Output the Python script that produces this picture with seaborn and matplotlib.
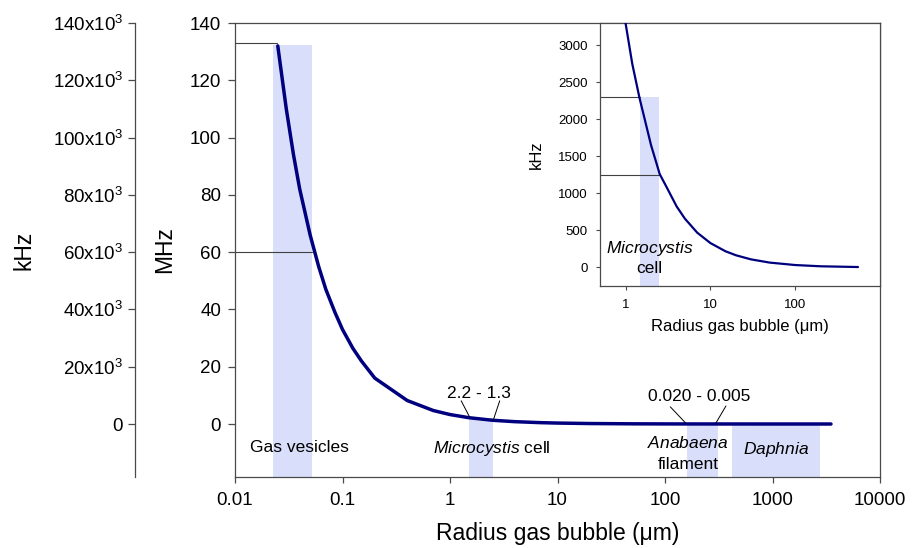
import matplotlib
matplotlib.use("Agg")
import seaborn as sns
from matplotlib import pyplot as plt
from matplotlib.ticker import NullLocator

# resonance curve: bubble radius (um) -> MHz
RADIUS_UM = [0.025, 0.03, 0.035, 0.04, 0.05, 0.06, 0.07, 0.085, 0.1, 0.125, 0.15, 0.2,
             0.4, 0.7, 1.0, 1.5, 2.5, 4, 7, 10, 20, 50, 100, 200, 500, 1000, 3500]
FREQ_MHZ = [132, 110, 94, 82, 66, 55, 47, 39, 33, 26.4, 22, 16,
            8.2, 4.7, 3.3, 2.2, 1.3, 0.82, 0.47, 0.33, 0.165, 0.066, 0.033, 0.017, 0.007, 0.0033, 0.001]

# inset curve: radius (um) -> kHz
INSET_R = [1.0, 1.2, 1.46, 2.0, 2.53, 3, 4, 5, 7, 10, 15, 20, 30, 50, 100, 200, 550]
INSET_KHZ = [3300, 2750, 2290, 1650, 1260, 1100, 825, 660, 470, 330, 220, 165, 110, 66, 33, 16, 6]

# shaded size ranges (um) and the frequency they reach (MHz)
BAND_LO = [0.0225, 1.5, 160, 420]
BAND_HI = [0.052, 2.5, 310, 2750]
BAND_TOP = [132.3, 2.2, 0.02, 0.008]

REF_Y = [133, 60]
REF_X_END = [0.0245, 0.052]

INSET_BAND = (1.5, 2.5, 2300)
INSET_REF_Y = [2300, 1250]
INSET_REF_X_END = [1.5, 2.5]

X_TICKS = [0.01, 0.1, 1, 10, 100, 1000, 10000]
X_TICK_LABELS = ["0.01", "0.1", "1", "10", "100", "1000", "10000"]
MHZ_TICKS = [0, 20, 40, 60, 80, 100, 120, 140]
KHZ_TICKS = [0, 20000, 40000, 60000, 80000, 100000, 120000, 140000]
KHZ_TICK_LABELS = ["0"] + [f"{v // 1000}x10$^3$" for v in KHZ_TICKS[1:]]
INSET_X_TICKS = [1, 10, 100]
INSET_Y_TICKS = [0, 500, 1000, 1500, 2000, 2500, 3000]

CURVE = "#00007F"
BAND = "#D9DEFA"
SPINE = "#4A4A4A"
REF = "#404040"

sns.set_theme(style="ticks")
plt.rcParams.update({
    "font.family": ["Liberation Sans", "DejaVu Sans"],
    "mathtext.fontset": "custom",
    "mathtext.rm": "Liberation Sans",
    "mathtext.it": "Liberation Sans:italic",
    "text.color": "black",
    "axes.labelcolor": "black",
    "axes.edgecolor": SPINE,
    "axes.linewidth": 0.9,
    "xtick.color": SPINE,
    "ytick.color": SPINE,
    "xtick.labelcolor": "black",
    "ytick.labelcolor": "black",
})

fig = plt.figure(figsize=(9.18, 5.48), dpi=100)
ax = fig.add_axes([235 / 918, 71 / 548, 645 / 918, 454 / 548])

YMIN, YMAX = -18.5, 140

for lo, hi, top in zip(BAND_LO, BAND_HI, BAND_TOP):
    ax.fill_between([lo, hi], YMIN, top, color=BAND, lw=0, zorder=1)
for y, xe in zip(REF_Y, REF_X_END):
    ax.plot([0.01, xe], [y, y], color=REF, lw=0.8, zorder=2)

sns.lineplot(x=RADIUS_UM, y=FREQ_MHZ, ax=ax, color=CURVE, lw=2.5, estimator=None, zorder=3)

ax.set_xscale("log")
ax.set_xlim(0.01, 10000)
ax.set_ylim(YMIN, YMAX)
ax.set_xticks(X_TICKS)
ax.set_xticklabels(X_TICK_LABELS)
ax.xaxis.set_minor_locator(NullLocator())
ax.set_yticks(MHZ_TICKS)
ax.tick_params(axis="y", length=5, width=0.9, pad=5, labelsize=13.5)
ax.tick_params(axis="x", length=4, width=0.9, pad=7, labelsize=13.5)
ax.set_xlabel("Radius gas bubble (μm)", fontsize=16.5, labelpad=9)
ax.set_ylabel("MHz", fontsize=16.5)
ax.yaxis.set_label_coords(-0.092, 0.5)

# annotations in the main panel
lab = dict(fontsize=12.5, ha="center", va="baseline")
ax.text(0.0394, -9.8, "Gas vesicles", **lab)
ax.text(2.47, -10.0, r"$\it{Microcystis}$ cell", **lab)
ax.text(163, -8.5, r"$\it{Anabaena}$", **lab)
ax.text(163, -15.8, "filament", **lab)
ax.text(1075, -10.6, r"$\it{Daphnia}$", **lab)
ax.text(1.84, 9.0, "2.2 - 1.3", **lab)
ax.text(210, 8.1, "0.020 - 0.005", **lab)
for (x0, y0), (x1, y1) in [((1.27, 8.1), (1.52, 2.5)), ((2.9, 8.1), (2.53, 1.4)),
                           ((112, 6.0), (156, 0.3)), ((369, 6.3), (297, 0.3))]:
    ax.plot([x0, x1], [y0, y1], color="black", lw=0.7, zorder=4)

# second left-hand axis in kHz
ax_k = ax.twinx()
ax_k.spines["left"].set_position(("outward", 72))
ax_k.spines["left"].set_visible(True)
for side in ("right", "top", "bottom"):
    ax_k.spines[side].set_visible(False)
ax_k.yaxis.set_ticks_position("left")
ax_k.yaxis.set_label_position("left")
ax_k.set_ylim(YMIN * 1000, YMAX * 1000)
ax_k.set_yticks(KHZ_TICKS)
ax_k.set_yticklabels(KHZ_TICK_LABELS)
ax_k.tick_params(axis="y", length=5, width=0.9, pad=3.5, labelsize=13.5)
ax_k.set_ylabel("kHz", fontsize=16.5)
ax_k.yaxis.set_label_coords(-0.31, 0.5)

# inset: zoom on the Microcystis range
ax_in = fig.add_axes([600 / 918, 262 / 548, 280 / 918, 263 / 548], zorder=5)
ax_in.set_facecolor("white")
lo, hi, top = INSET_BAND
ax_in.fill_between([lo, hi], -250, top, color=BAND, lw=0, zorder=1)
for y, xe in zip(INSET_REF_Y, INSET_REF_X_END):
    ax_in.plot([0.5, xe], [y, y], color=REF, lw=0.8, zorder=2)
sns.lineplot(x=INSET_R, y=INSET_KHZ, ax=ax_in, color=CURVE, lw=1.6, estimator=None, zorder=3)
ax_in.set_xscale("log")
ax_in.set_xlim(0.5, 1000)
ax_in.set_ylim(-250, 3300)
ax_in.set_xticks(INSET_X_TICKS)
ax_in.set_xticklabels(["1", "10", "100"])
ax_in.xaxis.set_minor_locator(NullLocator())
ax_in.set_yticks(INSET_Y_TICKS)
ax_in.tick_params(length=3, width=0.8, pad=6, labelsize=9.5)
ax_in.set_xlabel("Radius gas bubble (μm)", fontsize=12, labelpad=6)
ax_in.set_ylabel("kHz", fontsize=12)
ax_in.yaxis.set_label_coords(-0.2, 0.5)
ax_in.text(1.92, 199, r"$\it{Microcystis}$", fontsize=12.5, ha="center", va="baseline")
ax_in.text(1.92, -72, "cell", fontsize=12.5, ha="center", va="baseline")

fig.savefig("out.png", dpi=100)
plt.close(fig)
